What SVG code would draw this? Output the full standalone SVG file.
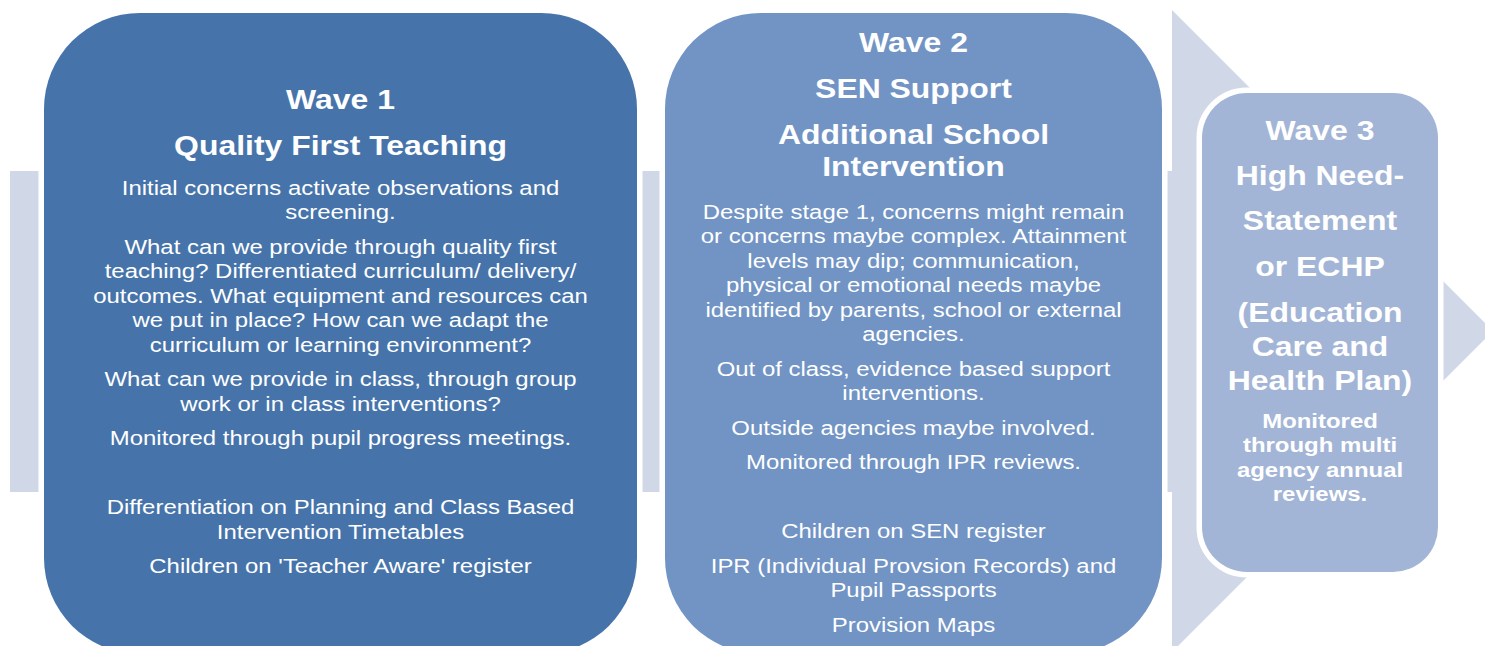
<svg xmlns="http://www.w3.org/2000/svg" width="1485" height="646" viewBox="0 0 1485 646">
<style>
.bg{fill:#D0D8E7}
.box{stroke:#FFFFFF;stroke-width:11;paint-order:stroke}
.t{font-family:"Liberation Sans",Arial,sans-serif;fill:#FFFFFF;text-anchor:middle}
.h{font-size:28px;font-weight:bold}
.b{font-size:21px}
.bb{font-size:21px;font-weight:bold}
</style>
<g id="background-arrow">
<rect class="bg" x="10" y="171" width="1162" height="321"/>
<polygon class="bg" points="1172,10 1493,331 1172,652"/>
<polygon class="bg" points="1444,284 1488,327 1444,370"/>
</g>
<g id="connectors"></g>
<g id="wave1">
<rect class="box" x="44" y="13" width="593" height="641" rx="96" ry="96" fill="#4674AA"/>
<g transform="matrix(1.14 0 0 1 340.5 0)" class="t">
<text class="h" x="0" y="109">Wave 1</text>
<text class="h" x="0" y="155">Quality First Teaching</text>
<text class="b" x="0" y="195">Initial concerns activate observations and</text>
<text class="b" x="0" y="219.5">screening.</text>
<text class="b" x="0" y="254">What can we provide through quality first</text>
<text class="b" x="0" y="278.5">teaching? Differentiated curriculum/ delivery/</text>
<text class="b" x="0" y="303">outcomes. What equipment and resources can</text>
<text class="b" x="0" y="327.5">we put in place? How can we adapt the</text>
<text class="b" x="0" y="352">curriculum or learning environment?</text>
<text class="b" x="0" y="386.5">What can we provide in class, through group</text>
<text class="b" x="0" y="411">work or in class interventions?</text>
<text class="b" x="0" y="445.5">Monitored through pupil progress meetings.</text>
<text class="b" x="0" y="514.5">Differentiation on Planning and Class Based</text>
<text class="b" x="0" y="539">Intervention Timetables</text>
<text class="b" x="0" y="573.5">Children on 'Teacher Aware' register</text>
</g>
</g>
<g id="wave2">
<rect class="box" x="665" y="13" width="497" height="641" rx="96" ry="96" fill="#7194C4"/>
<g transform="matrix(1.14 0 0 1 913.5 0)" class="t">
<text class="h" x="0" y="52">Wave 2</text>
<text class="h" x="0" y="98">SEN Support</text>
<text class="h" x="0" y="144">Additional School</text>
<text class="h" x="0" y="176">Intervention</text>
<text class="b" x="0" y="219">Despite stage 1, concerns might remain</text>
<text class="b" x="0" y="243.5">or concerns maybe complex. Attainment</text>
<text class="b" x="0" y="268">levels may dip; communication,</text>
<text class="b" x="0" y="292.5">physical or emotional needs maybe</text>
<text class="b" x="0" y="317">identified by parents, school or external</text>
<text class="b" x="0" y="341.5">agencies.</text>
<text class="b" x="0" y="376">Out of class, evidence based support</text>
<text class="b" x="0" y="400.5">interventions.</text>
<text class="b" x="0" y="435">Outside agencies maybe involved.</text>
<text class="b" x="0" y="469.5">Monitored through IPR reviews.</text>
<text class="b" x="0" y="538.5">Children on SEN register</text>
<text class="b" x="0" y="573">IPR (Individual Provsion Records) and</text>
<text class="b" x="0" y="597.5">Pupil Passports</text>
<text class="b" x="0" y="632">Provision Maps</text>
</g>
</g>
<g id="wave3">
<rect class="box" x="1202" y="93" width="236" height="479" rx="45" ry="45" fill="#A3B5D6"/>
<g transform="matrix(1.14 0 0 1 1320 0)" class="t">
<text class="h" x="0" y="140">Wave 3</text>
<text class="h" x="0" y="185">High Need-</text>
<text class="h" x="0" y="230">Statement</text>
<text class="h" x="0" y="276">or ECHP</text>
<text class="h" x="0" y="322">(Education</text>
<text class="h" x="0" y="356">Care and</text>
<text class="h" x="0" y="390">Health Plan)</text>
<text class="bb" x="0" y="428">Monitored</text>
<text class="bb" x="0" y="452.5">through multi</text>
<text class="bb" x="0" y="477">agency annual</text>
<text class="bb" x="0" y="501.5">reviews.</text>
</g>
</g>
</svg>
